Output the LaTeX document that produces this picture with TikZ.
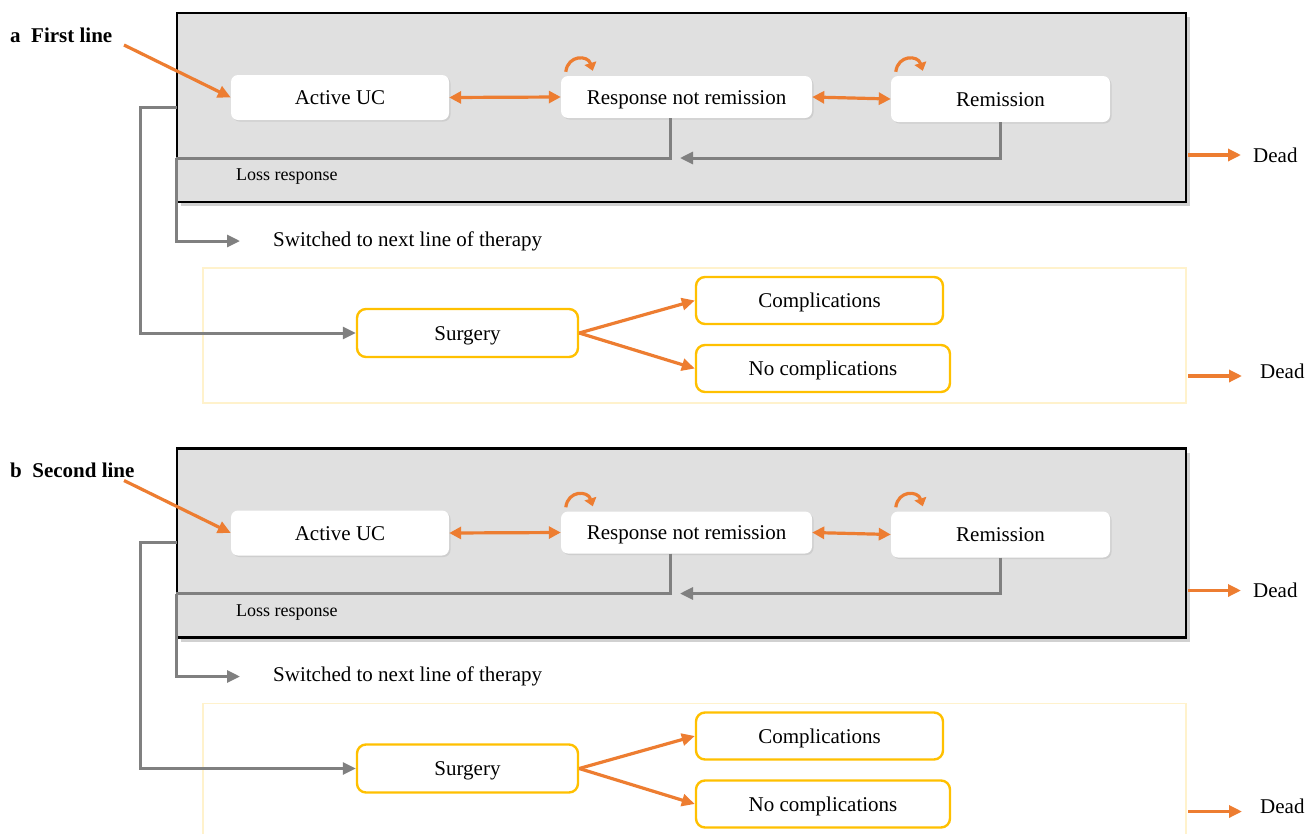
\documentclass[tikz,border=0pt]{standalone}
\usepackage{fontspec}
\setmainfont{Liberation Serif}
\usetikzlibrary{arrows.meta,shadows}
\definecolor{org}{HTML}{ED7D31}
\definecolor{gline}{HTML}{808080}
\definecolor{ybox}{HTML}{FFC000}
\definecolor{ypale}{HTML}{FFF2CC}
\definecolor{gfill}{HTML}{E0E0E0}
\begin{document}
\begin{tikzpicture}[x=1pt,y=-1pt,
  every node/.style={font=\fontsize{21}{25}\selectfont},
  panelbox/.style={draw=black, line width=2.2pt, fill=gfill, inner sep=0pt,
    drop shadow={shadow xshift=4pt, shadow yshift=-4pt, opacity=0.18, fill=black}},
  state/.style={rectangle, rounded corners=7pt, fill=white, inner sep=0pt, text depth=0pt, text height=14pt,
    drop shadow={shadow xshift=1.5pt, shadow yshift=-1.5pt, opacity=0.08, fill=black}},
  ystate/.style={rectangle, rounded corners=9pt, fill=white, draw=ybox, line width=2.4pt, inner sep=0pt, text depth=0pt, text height=14pt},
  oarr/.style={draw=org, line width=3.2pt, -{Triangle[length=13pt,width=12pt]}},
  odbl/.style={draw=org, line width=3.2pt, {Triangle[length=12pt,width=12pt]}-{Triangle[length=12pt,width=12pt]}},
  oloop/.style={draw=org, line width=3.2pt, -{Triangle[length=8pt,width=12pt]}},
  garr/.style={draw=gline, line width=3pt, -{Triangle[length=13pt,width=12pt]}},
  gline/.style={draw=gline, line width=3pt},
  lbl/.style={inner sep=0pt, anchor=west}
]
\useasboundingbox (0,0) rectangle (1307,833);
\foreach \p/\dy/\lab in {a/0/{a\ \ First line}, b/435.5/{b\ \ Second line}}{
\begin{scope}[shift={(0,\dy)}]
  % frames
  \node[panelbox, minimum width=1009pt, minimum height=189pt] (box\p) at (681.5,107.5) {};
  \draw[ypale, line width=1.8pt] (203,268) rectangle (1186,403);
  % panel label
  \node[lbl, font=\fontsize{21}{25}\selectfont\bfseries] (lab\p) at (10,35) {\lab};
  \coordinate (ent\p) at (124,45);
  % states
  \node[state, minimum width=218pt, minimum height=45pt] (act\p) at (340,97.5) {Active UC};
  \node[state, minimum width=251pt, minimum height=42pt] (resp\p) at (686.5,97) {Response not remission};
  \node[state, minimum width=219pt, minimum height=46pt] (rem\p) at (1000.5,99) {Remission};
  \node[ystate, minimum width=221pt, minimum height=48pt] (surg\p) at (467.5,333) {Surgery};
  \node[ystate, minimum width=247pt, minimum height=47pt] (comp\p) at (819.5,300.5) {Complications};
  \node[ystate, minimum width=254pt, minimum height=47pt] (nocomp\p) at (823,368.5) {No complications};
  % texts
  \node[lbl, font=\fontsize{18}{22}\selectfont] (loss\p) at (236,177) {Loss response};
  \node[lbl] (sw\p) at (273,241) {Switched to next line of therapy};
  \node[lbl] (deadA\p) at (1253,155) {Dead};
  \node[lbl] (deadB\p) at (1260,371) {Dead};
  % coordinates
  \coordinate (lossL\p) at (176,158);
  \coordinate (lossM\p) at (680,158);
  \coordinate (surgL\p) at (177,107);
  \coordinate (dA\p) at (1188,155);
  \coordinate (dB\p) at (1188,376);
  % connectors
  \draw[oarr] (ent\p) -- (act\p.west);
  \draw[odbl] (act\p.east) -- (resp\p.west);
  \draw[odbl] (resp\p.east) -- (rem\p.west);
  \draw[oloop] ([shift={(5,-4)}]resp\p.north west) .. controls ([shift={(7,-21)}]resp\p.north west) and ([shift={(27,-21)}]resp\p.north west) .. ([shift={(32,-5)}]resp\p.north west);
  \draw[oloop] ([shift={(5,-4)}]rem\p.north west) .. controls ([shift={(7,-21)}]rem\p.north west) and ([shift={(27,-21)}]rem\p.north west) .. ([shift={(32,-5)}]rem\p.north west);
  \draw[gline] ([xshift=-16pt]resp\p.south) |- (lossL\p);
  \draw[garr] (lossL\p) |- ([xshift=-33pt]sw\p.west);
  \draw[garr] (rem\p.south) |- (lossM\p);
  \draw[garr] (surgL\p) -- (140,107) |- (surg\p.west);
  \draw[oarr] (surg\p.east) -- (comp\p.west);
  \draw[oarr] (surg\p.east) -- (nocomp\p.west);
  \draw[oarr] (dA\p) -- ([xshift=-12pt]deadA\p.west |- dA\p);
  \draw[oarr] (dB\p) -- ([xshift=-18pt]deadB\p.west |- dB\p);
\end{scope}
}
\end{tikzpicture}
\end{document}
